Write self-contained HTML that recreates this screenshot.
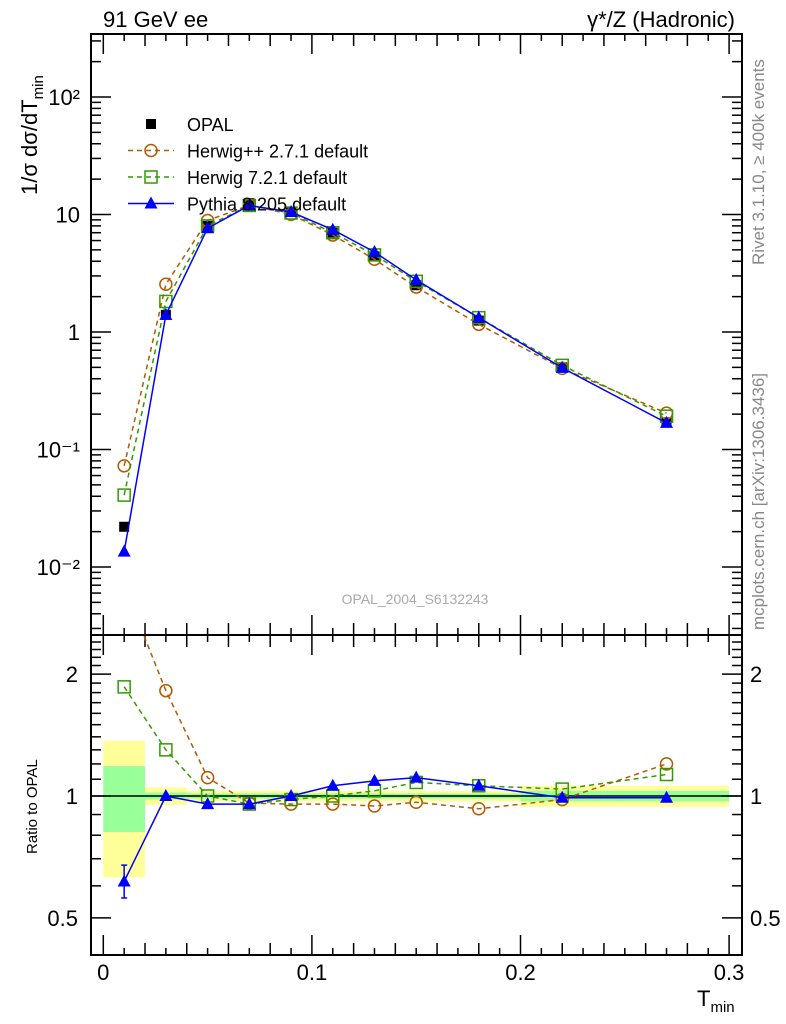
<!DOCTYPE html>
<html><head><meta charset="utf-8"><style>
body{margin:0;background:#fff}
svg{display:block;font-family:"Liberation Sans",sans-serif}
</style></head><body>
<svg id="c" width="786" height="1024" viewBox="0 0 786 1024" xmlns="http://www.w3.org/2000/svg"></svg>
<script>
const xs=[0.01,0.03,0.05,0.07,0.09,0.11,0.13,0.15,0.18,0.22,0.27];
const edges=[0,0.02,0.04,0.06,0.08,0.1,0.12,0.14,0.16,0.2,0.24,0.3];
const opal=[0.022,1.4,8,12.5,10.5,7,4.4,2.5,1.25,0.5,0.17];
const yellowErr=[0.37,0.05,0.03,0.03,0.03,0.03,0.03,0.03,0.03,0.06,0.06];
const greenErr=[0.185,0.02,0.015,0.015,0.015,0.015,0.015,0.015,0.015,0.03,0.03];
const herwigppRatio=[3.3,1.82,1.11,0.96,0.955,0.955,0.945,0.965,0.93,0.98,1.2];
const herwig7Ratio=[1.86,1.30,1.0,0.955,0.98,1.0,1.03,1.08,1.06,1.04,1.13];
const pythiaRatio=[0.615,1.0,0.955,0.955,1.0,1.06,1.09,1.11,1.06,0.99,0.99];
const pythiaErrLo=[0.56];
const pythiaErrHi=[0.675];
const mainTicks=["10\u207B\u00B2","10\u207B\u00B9","1","10","10\u00B2"];
const xTicks=["0","0.1","0.2","0.3"];
const ratioTicks=["0.5","1","2"];

const S=document.getElementById('c'),NS="http://www.w3.org/2000/svg";
function el(t,a,p){const e=document.createElementNS(NS,t);for(const k in a)e.setAttribute(k,a[k]);(p||S).appendChild(e);return e;}
const L=91,R=742,T=34,M=635,B=955;
const X=v=>103.3+v*2086;
const Y=v=>567-(Math.log10(v)+2)*117.5;
const YR=v=>796-Math.log10(v)*405;

for(let i=0;i<xs.length;i++){
  let r=el('rect',{x:X(edges[i]),width:X(edges[i+1])-X(edges[i]),y:YR(1+yellowErr[i]),height:YR(1-yellowErr[i])-YR(1+yellowErr[i]),fill:'#ffff99'});
  
  
  let g=el('rect',{x:X(edges[i]),width:X(edges[i+1])-X(edges[i]),y:YR(1+greenErr[i]),height:YR(1-greenErr[i])-YR(1+greenErr[i]),fill:'#99ff99'});
  
  
}
el('line',{x1:L,x2:R,y1:YR(1),y2:YR(1),stroke:'#000','stroke-width':1.5});

for(const [y1,y2] of [[T,M],[M,B]]){el('rect',{x:L,y:y1,width:R-L,height:y2-y1,fill:'none',stroke:'#000','stroke-width':2});}

for(let k=0;k<=30;k++){const v=k/100,x=X(v),big=k%10==0,len=big?20:(k%2==0?12:7);
  for(const [yt,yb] of [[T,M],[M,B]]){el('line',{x1:x,x2:x,y1:yt,y2:yt+len,stroke:'#000','stroke-width':1.5});el('line',{x1:x,x2:x,y1:yb,y2:yb-len,stroke:'#000','stroke-width':1.5});}}
xTicks.forEach((t,i)=>{const e=el('text',{x:X(i*0.1),y:980,'font-size':22,'text-anchor':'middle'});e.textContent=t;});

for(let d=-3;d<=2;d++)for(let m=1;m<10;m++){const v=m*Math.pow(10,d),y=Y(v);if(y<T||y>M)continue;const len=m==1?20:10;
  el('line',{x1:L,x2:L+len,y1:y,y2:y,stroke:'#000','stroke-width':1.5});el('line',{x1:R,x2:R-len,y1:y,y2:y,stroke:'#000','stroke-width':1.5});}
mainTicks.forEach((t,i)=>{const e=el('text',{x:80,y:Y(Math.pow(10,i-2))+8,'font-size':22,'text-anchor':'end'});e.textContent=t;});

for(const v of [0.5,0.6,0.7,0.8,0.9,1,1.1,1.2,1.3,1.4,1.5,1.6,1.7,1.8,1.9,2,2.1,2.2,2.3,2.4]){const y=YR(v);const len=(v==0.5||v==1||v==2)?20:10;
  el('line',{x1:L,x2:L+len,y1:y,y2:y,stroke:'#000','stroke-width':1.5});el('line',{x1:R,x2:R-len,y1:y,y2:y,stroke:'#000','stroke-width':1.5});}
ratioTicks.forEach(t=>{const v=parseFloat(t);for(const [x,a] of [[78,'end'],[750,'start']]){const e=el('text',{x:x,y:YR(v)+8,'font-size':22,'text-anchor':a});e.textContent=t;}});

const series=[
 {name:'herwigpp',ratio:herwigppRatio,color:'#b35900',dash:'5,4',mk:'circle'},
 {name:'herwig7',ratio:herwig7Ratio,color:'#339900',dash:'5,4',mk:'square'},
 {name:'pythia',ratio:pythiaRatio,color:'#0000ff',dash:'',mk:'tri'}];
function marker(mk,x,y,c,name){let e;
  if(mk=='circle')e=el('circle',{cx:x,cy:y,r:6,fill:'none',stroke:c,'stroke-width':1.5});
  else if(mk=='square')e=el('rect',{x:x-6,y:y-6,width:12,height:12,fill:'none',stroke:c,'stroke-width':1.5});
  else if(mk=='tri')e=el('polygon',{points:`${x},${y-7} ${x-6.5},${y+5} ${x+6.5},${y+5}`,fill:c});
  else e=el('rect',{x:x-5,y:y-5,width:10,height:10,fill:'#000'});
  return e;}
xs.forEach((x,i)=>marker('sq',X(x),Y(opal[i]),'#000','opal-point'));
series.forEach(s=>{
  const main=xs.map((x,i)=>[X(x),Y(opal[i]*s.ratio[i])]);
  const p=el('polyline',{points:main.map(q=>q.join(',')).join(' '),fill:'none',stroke:s.color,'stroke-width':1.5,'stroke-dasharray':s.dash});
  
  main.forEach(q=>marker(s.mk,q[0],q[1],s.color,s.name+'-point'));
  const rat=xs.map((x,i)=>[X(x),YR(s.ratio[i])]);
  const cp=el('clipPath',{id:'cl'+s.name});el('rect',{x:L,y:M,width:R-L,height:B-M},cp);
  const g=el('g',{'clip-path':'url(#cl'+s.name+')'});
  const r=el('polyline',{points:rat.map(q=>q.join(',')).join(' '),fill:'none',stroke:s.color,'stroke-width':1.5,'stroke-dasharray':s.dash},g);
  
  rat.forEach(q=>{if(q[1]>M)marker(s.mk,q[0],q[1],s.color,s.name+'-ratio-point');});
});
const ex=X(xs[0]);
el('line',{x1:ex,x2:ex,y1:YR(pythiaErrHi[0]),y2:YR(pythiaErrLo[0]),stroke:'#0000ff','stroke-width':1.5});
el('line',{x1:ex-3,x2:ex+3,y1:YR(pythiaErrHi[0]),y2:YR(pythiaErrHi[0]),stroke:'#0000ff','stroke-width':1.5});
el('line',{x1:ex-3,x2:ex+3,y1:YR(pythiaErrLo[0]),y2:YR(pythiaErrLo[0]),stroke:'#0000ff','stroke-width':1.5});

const leg=[['OPAL','sq','#000',''],['Herwig++ 2.7.1 default','circle','#b35900','5,4'],['Herwig 7.2.1 default','square','#339900','5,4'],['Pythia 8.205 default','tri','#0000ff','']];
leg.forEach((l,i)=>{const y=124+i*26.5;
  if(l[1]!='sq')el('line',{x1:128,x2:174,y1:y,y2:y,stroke:l[2],'stroke-width':1.5,'stroke-dasharray':l[3]});
  marker(l[1],151,y,l[2],'legend-marker');
  const t=el('text',{x:187,y:y+7,'font-size':18});t.textContent=l[0];});

function txt(s,a,name){const t=el('text',a);t.textContent=s;return t;}
txt('91 GeV ee',{x:103,y:27,'font-size':22},'title-left');
txt('γ*/Z (Hadronic)',{x:735,y:27,'font-size':22,'text-anchor':'end'},'title-right');
txt('OPAL_2004_S6132243',{x:415,y:604,'font-size':14,fill:'#aaa','text-anchor':'middle'},'analysis-label');
txt('Rivet 3.1.10, ≥ 400k events',{x:0,y:0,'font-size':17,fill:'#888',transform:'translate(764,265) rotate(-90)'},'rivet-label');
txt('mcplots.cern.ch [arXiv:1306.3436]',{x:0,y:0,'font-size':17,fill:'#888',transform:'translate(764,630) rotate(-90)'},'mcplots-label');
const yt=txt('',{x:0,y:0,'font-size':22,transform:'translate(37,195) rotate(-90)'},'y-axis-title');
yt.innerHTML='1/σ dσ/dT<tspan font-size="15" dy="6">min</tspan>';
txt('Ratio to OPAL',{x:0,y:0,'font-size':15,transform:'translate(37,854) rotate(-90)'},'ratio-axis-title');
const xt=txt('',{x:697,y:1006,'font-size':22},'x-axis-title');
xt.innerHTML='T<tspan font-size="15" dy="6">min</tspan>';
</script>
</body></html>
